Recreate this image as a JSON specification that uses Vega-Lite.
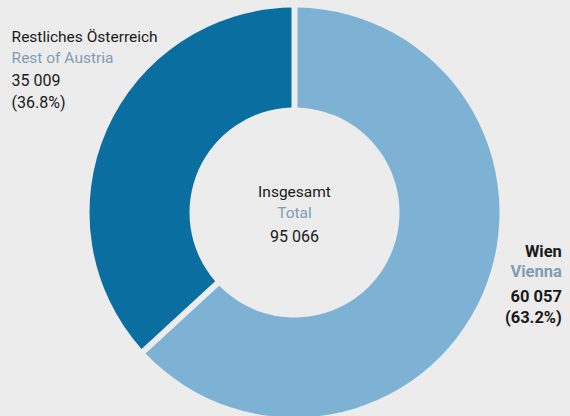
{
  "$schema": "https://vega.github.io/schema/vega-lite/v6.json",
  "width": 551,
  "height": 407,
  "padding": {"left": 19, "top": 9, "right": 0, "bottom": 0},
  "autosize": {"type": "none"},
  "background": "#ececec",
  "config": {"view": {"stroke": null}, "text": {"font": "Roboto, sans-serif", "fontSize": 15.5, "baseline": "middle"}},
  "data": {"values": [
    {"key": "wien", "de": "Wien", "en": "Vienna", "value": 60057, "label": "60 057", "pct": "(63.2%)", "order": 1},
    {"key": "rest", "de": "Restliches Österreich", "en": "Rest of Austria", "value": 35009, "label": "35 009", "pct": "(36.8%)", "order": 2}
  ]},
  "encoding": {
    "theta": {"field": "value", "type": "quantitative", "stack": true},
    "order": {"field": "order", "type": "ordinal"}
  },
  "layer": [
    {
      "mark": {"type": "arc", "outerRadius": 205, "innerRadius": 105, "padAngle": 0.026},
      "encoding": {
        "color": {"field": "key", "type": "nominal", "scale": {"domain": ["wien", "rest"], "range": ["#7db2d5", "#0a6fa0"]}, "legend": null}
      }
    },
    {"mark": {"type": "text", "radius": 309, "align": "left", "dy": -51, "color": "#1a1a1a"},
     "encoding": {"text": {"condition": {"test": "datum.key === 'rest'", "field": "de"}, "value": ""}}},
    {"mark": {"type": "text", "radius": 309, "align": "left", "dy": -30, "color": "#7f9db5"},
     "encoding": {"text": {"condition": {"test": "datum.key === 'rest'", "field": "en"}, "value": ""}}},
    {"mark": {"type": "text", "radius": 309, "align": "left", "dy": -7, "color": "#1a1a1a", "fontSize": 16},
     "encoding": {"text": {"condition": {"test": "datum.key === 'rest'", "field": "label"}, "value": ""}}},
    {"mark": {"type": "text", "radius": 309, "align": "left", "dy": 15, "color": "#1a1a1a", "fontSize": 16},
     "encoding": {"text": {"condition": {"test": "datum.key === 'rest'", "field": "pct"}, "value": ""}}},
    {"mark": {"type": "text", "radius": 292, "align": "right", "dy": -78, "color": "#1a1a1a", "fontWeight": "bold", "fontSize": 16.5},
     "encoding": {"text": {"condition": {"test": "datum.key === 'wien'", "field": "de"}, "value": ""}}},
    {"mark": {"type": "text", "radius": 292, "align": "right", "dy": -58, "color": "#7f9db5", "fontWeight": "bold", "fontSize": 16.5},
     "encoding": {"text": {"condition": {"test": "datum.key === 'wien'", "field": "en"}, "value": ""}}},
    {"mark": {"type": "text", "radius": 292, "align": "right", "dy": -33, "color": "#1a1a1a", "fontWeight": "bold", "fontSize": 16.5},
     "encoding": {"text": {"condition": {"test": "datum.key === 'wien'", "field": "label"}, "value": ""}}},
    {"mark": {"type": "text", "radius": 292, "align": "right", "dy": -12, "color": "#1a1a1a", "fontWeight": "bold", "fontSize": 16.5},
     "encoding": {"text": {"condition": {"test": "datum.key === 'wien'", "field": "pct"}, "value": ""}}},
    {"data": {"values": [{"a": "Insgesamt", "b": "Total", "c": "95 066"}]},
     "mark": {"type": "text", "dy": -21, "color": "#1a1a1a"},
     "encoding": {"theta": null, "order": null, "text": {"field": "a"}}},
    {"data": {"values": [{"a": "Insgesamt", "b": "Total", "c": "95 066"}]},
     "mark": {"type": "text", "dy": 0, "color": "#7f9db5"},
     "encoding": {"theta": null, "order": null, "text": {"field": "b"}}},
    {"data": {"values": [{"a": "Insgesamt", "b": "Total", "c": "95 066"}]},
     "mark": {"type": "text", "dy": 24, "color": "#1a1a1a", "fontSize": 16},
     "encoding": {"theta": null, "order": null, "text": {"field": "c"}}}
  ]
}
